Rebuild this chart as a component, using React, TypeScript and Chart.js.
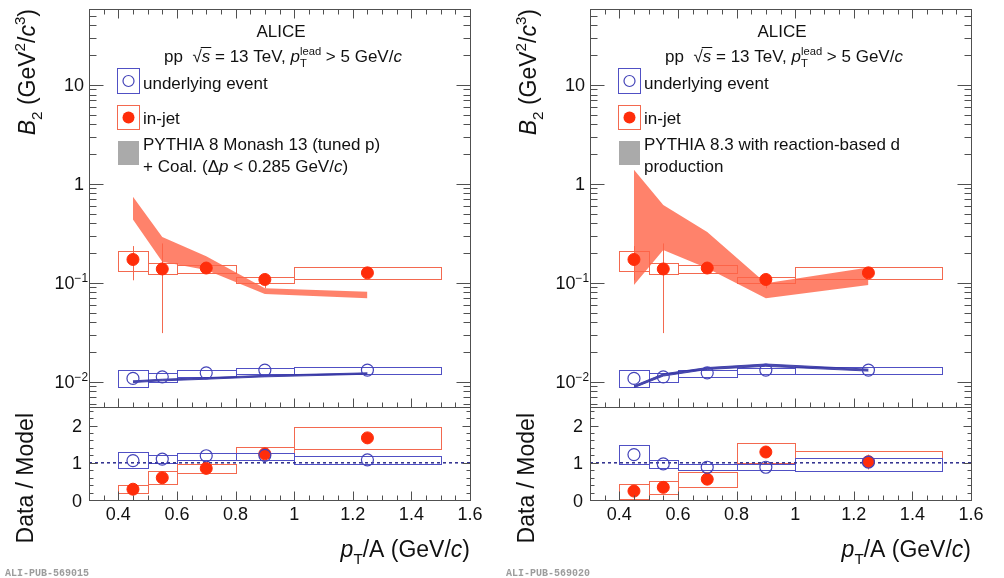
import React, { useEffect, useRef } from 'react';
import { Chart, registerables } from 'chart.js';

Chart.register(...registerables);

// ---------------- data ----------------
const binCenters = [0.45, 0.55, 0.7, 0.9, 1.25];
const binLow = [0.4, 0.5, 0.6, 0.8, 1.0];
const binHigh = [0.5, 0.6, 0.8, 1.0, 1.5];

// in-jet B2
const inJetB2 = [0.172, 0.138, 0.141, 0.108, 0.126];
const inJetStatLow = [0.106, 0.031, 0.136, 0.088, 0.12];
const inJetStatHigh = [0.235, 0.25, 0.146, 0.124, 0.132];
const inJetSystLow = [0.132, 0.122, 0.126, 0.1, 0.108];
const inJetSystHigh = [0.21, 0.157, 0.152, 0.115, 0.143];

// underlying-event B2
const ueB2 = [0.0108, 0.0112, 0.0123, 0.0131, 0.0131];
const ueSystLow = [0.0088, 0.0099, 0.0112, 0.012, 0.0119];
const ueSystHigh = [0.013, 0.0122, 0.013, 0.0139, 0.0142];

// model x positions
const modelX = [0.45, 0.55, 0.7, 0.9, 1.25];

// PYTHIA 8 Monash 13 + coalescence (left)
const monashInJetLow = [0.437, 0.163, 0.135, 0.077, 0.0696];
const monashInJetHigh = [0.74, 0.29, 0.185, 0.088, 0.081];
const monashUELow = [0.0098, 0.0102, 0.0106, 0.0112, 0.0119];
const monashUEHigh = [0.0102, 0.0106, 0.011, 0.0116, 0.0123];

// PYTHIA 8.3 reaction-based (right)
const reactionInJetLow = [0.095, 0.214, 0.14, 0.0696, 0.095];
const reactionInJetHigh = [1.39, 0.61, 0.327, 0.099, 0.143];
const reactionUELow = [0.0087, 0.0114, 0.0133, 0.0143, 0.0128];
const reactionUEHigh = [0.0091, 0.012, 0.0139, 0.0151, 0.0134];

// Data / Model, left
const ratioMonashInJet = [0.29, 0.6, 0.85, 1.24, 1.67];
const ratioMonashInJetStatLow = [0.22, 0.5, 0.8, 1.14, 1.58];
const ratioMonashInJetStatHigh = [0.36, 0.7, 0.9, 1.34, 1.76];
const ratioMonashInJetSystLow = [0.18, 0.42, 0.72, 1.08, 1.38];
const ratioMonashInJetSystHigh = [0.39, 0.79, 0.97, 1.42, 1.95];
const ratioMonashUE = [1.06, 1.1, 1.19, 1.2, 1.08];
const ratioMonashUESystLow = [0.85, 0.99, 1.08, 1.08, 0.97];
const ratioMonashUESystHigh = [1.3, 1.2, 1.26, 1.26, 1.18];

// Data / Model, right
const ratioReactionInJet = [0.24, 0.34, 0.56, 1.29, 1.03];
const ratioReactionInJetStatLow = [0.08, 0.24, 0.48, 1.13, 0.82];
const ratioReactionInJetStatHigh = [0.38, 0.44, 0.64, 1.45, 1.22];
const ratioReactionInJetSystLow = [0.02, 0.16, 0.36, 1.0, 0.77];
const ratioReactionInJetSystHigh = [0.43, 0.51, 0.75, 1.53, 1.32];
const ratioReactionUE = [1.22, 0.97, 0.88, 0.88, 1.02];
const ratioReactionUESystLow = [0.96, 0.87, 0.81, 0.81, 0.78];
const ratioReactionUESystHigh = [1.48, 1.08, 0.97, 0.97, 1.13];

// unity reference line
const unityX = [0.3, 1.6];
const unityY = [1, 1];

// axes / ticks
const xMin = 0.3;
const xMax = 1.6;
const xMajorTicks = [0.4, 0.6, 0.8, 1.0, 1.2, 1.4, 1.6];
const xTickLabels = ['0.4', '0.6', '0.8', '1', '1.2', '1.4', '1.6'];
const xMinorStep = 0.05;
const logMin = 0.00555;
const logMax = 58.6;
const logMajorTicks = [0.01, 0.1, 1, 10];
const logTickBase = ['10', '10', '1', '10'];
const logTickExp = ['−2', '−1', '', ''];
const ratioMin = 0;
const ratioMax = 2.5;
const ratioMajorTicks = [0, 1, 2];
const ratioTickLabels = ['0', '1', '2'];
const ratioMinorStep = 0.2;

// ---------------- styling ----------------
const W = 502;
const H = 578;
const FRAME = { left: 89, right: 470, top: 9, mid: 407, bottom: 500 };
const FONT = '"Liberation Sans", Arial, Helvetica, sans-serif';
const RED = '#ff2d0a';
const RED_BOX = '#f3694f';
const BAND_RED = 'rgba(255, 99, 70, 0.8)';
const BLUE = '#4343b8';
const BLUE_BOX = '#5050c4';
const BAND_BLUE = 'rgba(55, 55, 165, 0.9)';
const DOTTED = '#2c2c8c';
const AXIS = '#505050';
const TEXT = '#111';

type Seg = { t: string; it?: boolean; sub?: boolean; sup?: boolean; hold?: boolean; over?: boolean };

function segFont(s: Seg, size: number) {
  const sz = s.sub || s.sup ? size * 0.66 : size;
  return `${s.it ? 'italic ' : ''}${sz}px ${FONT}`;
}

function rich(
  ctx: CanvasRenderingContext2D,
  segs: Seg[],
  x0: number,
  y: number,
  size: number,
  align: 'left' | 'right' | 'center',
  draw = true
): number {
  let total = 0;
  if (draw) total = rich(ctx, segs, 0, 0, size, 'left', false);
  const start = align === 'left' ? x0 : align === 'right' ? x0 - total : x0 - total / 2;
  let x = start;
  let hold: { x: number; w: number } | null = null;
  ctx.textAlign = 'left';
  ctx.textBaseline = 'alphabetic';
  for (const s of segs) {
    ctx.font = segFont(s, size);
    const w = ctx.measureText(s.t).width;
    const dy = s.sub ? size * 0.3 : s.sup ? -size * 0.42 : 0;
    const dx = hold ? hold.x : x;
    if (draw) {
      ctx.fillText(s.t, dx, y + dy);
      if (s.over) {
        ctx.save();
        ctx.strokeStyle = ctx.fillStyle as string;
        ctx.lineWidth = 1;
        ctx.beginPath();
        const oy = Math.round(y - size * 0.86) + 0.5;
        ctx.moveTo(dx - 1, oy);
        ctx.lineTo(dx + w + 1, oy);
        ctx.stroke();
        ctx.restore();
      }
    }
    if (s.hold) {
      hold = { x, w };
      continue;
    }
    if (hold) {
      x = hold.x + Math.max(hold.w, w);
      hold = null;
    } else x += w;
  }
  return x - start;
}

function pts(xs: number[], ys: number[]) {
  return xs.map((x, i) => ({ x, y: ys[i] }));
}

type BoxSet = { lo: number[]; hi: number[]; color: string };
type ErrSet = { x: number[]; lo: number[]; hi: number[]; color: string };

function drawBoxesAndErrors(chart: any, boxes: BoxSet[], errs: ErrSet[]) {
  const { ctx, chartArea } = chart;
  const xs = chart.scales.x;
  const ys = chart.scales.y;
  ctx.save();
  ctx.beginPath();
  ctx.rect(chartArea.left, chartArea.top, chartArea.right - chartArea.left, chartArea.bottom - chartArea.top);
  ctx.clip();
  ctx.lineWidth = 1;
  for (const b of boxes) {
    ctx.strokeStyle = b.color;
    for (let i = 0; i < binLow.length; i++) {
      const x1 = Math.round(xs.getPixelForValue(binLow[i])) + 0.5;
      const x2 = Math.round(xs.getPixelForValue(binHigh[i])) + 0.5;
      const y1 = Math.round(ys.getPixelForValue(b.hi[i])) + 0.5;
      const y2 = Math.round(ys.getPixelForValue(b.lo[i])) + 0.5;
      ctx.strokeRect(x1, y1, x2 - x1, y2 - y1);
    }
  }
  for (const e of errs) {
    ctx.strokeStyle = e.color;
    ctx.beginPath();
    for (let i = 0; i < e.x.length; i++) {
      const px = Math.round(xs.getPixelForValue(e.x[i])) + 0.5;
      ctx.moveTo(px, ys.getPixelForValue(e.hi[i]));
      ctx.lineTo(px, ys.getPixelForValue(e.lo[i]));
    }
    ctx.stroke();
  }
  ctx.restore();
}

function drawFrame(chart: any, opts: {
  yMajor: number[];
  yMinor: number[];
  xTop: boolean;
  xMajLen: number;
  xMinLen: number;
  yMajLen: number;
  yMinLen: number;
}) {
  const { ctx, chartArea } = chart;
  const { left, right, top, bottom } = chartArea;
  const xs = chart.scales.x;
  const ys = chart.scales.y;
  ctx.save();
  ctx.strokeStyle = AXIS;
  ctx.lineWidth = 1;
  ctx.beginPath();
  const seg = (x1: number, y1: number, x2: number, y2: number) => {
    ctx.moveTo(x1, y1);
    ctx.lineTo(x2, y2);
  };
  const nMinor = Math.round((xMax - xMin) / xMinorStep);
  for (let k = 1; k < nMinor; k++) {
    const v = xMin + k * xMinorStep;
    const major = xMajorTicks.some((m) => Math.abs(m - v) < 1e-6);
    const len = major ? opts.xMajLen : opts.xMinLen;
    const px = Math.round(xs.getPixelForValue(v)) + 0.5;
    seg(px, bottom + 0.5, px, bottom + 0.5 - len);
    if (opts.xTop) seg(px, top + 0.5, px, top + 0.5 + len);
  }
  const yTick = (v: number, len: number) => {
    const py = Math.round(ys.getPixelForValue(v)) + 0.5;
    if (py < top || py > bottom + 1) return;
    seg(left + 0.5, py, left + 0.5 + len, py);
    seg(right + 0.5, py, right + 0.5 - len, py);
  };
  opts.yMinor.forEach((v) => yTick(v, opts.yMinLen));
  opts.yMajor.forEach((v) => yTick(v, opts.yMajLen));
  ctx.stroke();
  ctx.strokeRect(left + 0.5, top + 0.5, right - left, bottom - top);
  ctx.restore();
}

type PanelCfg = {
  modelInJetLow: number[];
  modelInJetHigh: number[];
  modelUELow: number[];
  modelUEHigh: number[];
  modelLines: Seg[][];
  ratioInJet: number[];
  ratioInJetStatLow: number[];
  ratioInJetStatHigh: number[];
  ratioInJetSystLow: number[];
  ratioInJetSystHigh: number[];
  ratioUE: number[];
  ratioUESystLow: number[];
  ratioUESystHigh: number[];
  pubLabel: string;
};

const leftPanel: PanelCfg = {
  modelInJetLow: monashInJetLow,
  modelInJetHigh: monashInJetHigh,
  modelUELow: monashUELow,
  modelUEHigh: monashUEHigh,
  modelLines: [
    [{ t: 'PYTHIA 8 Monash 13 (tuned p)' }],
    [{ t: '+ Coal. (Δ' }, { t: 'p', it: true }, { t: ' < 0.285 GeV/' }, { t: 'c', it: true }, { t: ')' }],
  ],
  ratioInJet: ratioMonashInJet,
  ratioInJetStatLow: ratioMonashInJetStatLow,
  ratioInJetStatHigh: ratioMonashInJetStatHigh,
  ratioInJetSystLow: ratioMonashInJetSystLow,
  ratioInJetSystHigh: ratioMonashInJetSystHigh,
  ratioUE: ratioMonashUE,
  ratioUESystLow: ratioMonashUESystLow,
  ratioUESystHigh: ratioMonashUESystHigh,
  pubLabel: 'ALI-PUB-569015',
};

const rightPanel: PanelCfg = {
  modelInJetLow: reactionInJetLow,
  modelInJetHigh: reactionInJetHigh,
  modelUELow: reactionUELow,
  modelUEHigh: reactionUEHigh,
  modelLines: [[{ t: 'PYTHIA 8.3 with reaction-based d' }], [{ t: 'production' }]],
  ratioInJet: ratioReactionInJet,
  ratioInJetStatLow: ratioReactionInJetStatLow,
  ratioInJetStatHigh: ratioReactionInJetStatHigh,
  ratioInJetSystLow: ratioReactionInJetSystLow,
  ratioInJetSystHigh: ratioReactionInJetSystHigh,
  ratioUE: ratioReactionUE,
  ratioUESystLow: ratioReactionUESystLow,
  ratioUESystHigh: ratioReactionUESystHigh,
  pubLabel: 'ALI-PUB-569020',
};

function markerSets(ueY: number[], jetY: number[]) {
  return [
    {
      label: 'underlying event',
      data: pts(binCenters, ueY),
      showLine: false,
      pointRadius: 6,
      pointHoverRadius: 6,
      pointStyle: 'circle',
      pointBorderColor: BLUE,
      pointBackgroundColor: 'rgba(0,0,0,0)',
      pointBorderWidth: 1.2,
      order: 0,
    },
    {
      label: 'in-jet',
      data: pts(binCenters, jetY),
      showLine: false,
      pointRadius: 6,
      pointHoverRadius: 6,
      pointStyle: 'circle',
      pointBorderColor: RED,
      pointBackgroundColor: RED,
      pointBorderWidth: 1,
      order: 1,
    },
  ];
}

function buildUpper(canvas: HTMLCanvasElement, cfg: PanelCfg) {
  const logMinor: number[] = [];
  for (let d = -3; d <= 1; d++) for (let m = 2; m <= 9; m++) logMinor.push(m * Math.pow(10, d));

  const plugin = {
    id: 'upperDecor',
    beforeDatasetsDraw(chart: any) {
      drawBoxesAndErrors(
        chart,
        [
          { lo: inJetSystLow, hi: inJetSystHigh, color: RED_BOX },
          { lo: ueSystLow, hi: ueSystHigh, color: BLUE_BOX },
        ],
        [{ x: binCenters, lo: inJetStatLow, hi: inJetStatHigh, color: RED_BOX }]
      );
    },
    afterDraw(chart: any) {
      const ctx: CanvasRenderingContext2D = chart.ctx;
      drawFrame(chart, {
        yMajor: logMajorTicks,
        yMinor: logMinor,
        xTop: true,
        xMajLen: 9,
        xMinLen: 5,
        yMajLen: 14,
        yMinLen: 7,
      });
      const ys = chart.scales.y;
      ctx.save();
      ctx.fillStyle = TEXT;
      // y tick labels
      logMajorTicks.forEach((v, i) => {
        const py = ys.getPixelForValue(v);
        const segs: Seg[] = [{ t: logTickBase[i] }];
        if (logTickExp[i]) segs.push({ t: logTickExp[i], sup: true });
        rich(ctx, segs, logTickExp[i] ? 88 : 84, py + 6.5, 18, 'right');
      });
      // y title (rotated)
      ctx.save();
      ctx.translate(35, 9);
      ctx.rotate(-Math.PI / 2);
      rich(
        ctx,
        [
          { t: 'B', it: true },
          { t: '2', sub: true },
          { t: ' (GeV' },
          { t: '2', sup: true },
          { t: '/' },
          { t: 'c', it: true },
          { t: '3', sup: true },
          { t: ')' },
        ],
        0,
        0,
        23,
        'right'
      );
      ctx.restore();
      // header
      rich(ctx, [{ t: 'ALICE' }], 281, 37, 17, 'center');
      rich(
        ctx,
        [
          { t: 'pp  ' },
          { t: '√' },
          { t: 's', it: true, over: true },
          { t: ' = 13 TeV, ' },
          { t: 'p', it: true },
          { t: 'T', sub: true, hold: true },
          { t: 'lead', sup: true },
          { t: ' > 5 GeV/' },
          { t: 'c', it: true },
        ],
        283,
        62,
        17,
        'center'
      );
      // legend
      ctx.lineWidth = 1;
      ctx.strokeStyle = BLUE_BOX;
      ctx.strokeRect(117.5, 68.5, 22, 25);
      ctx.beginPath();
      ctx.arc(128.5, 81, 5.5, 0, Math.PI * 2);
      ctx.strokeStyle = BLUE;
      ctx.lineWidth = 1.2;
      ctx.stroke();
      ctx.lineWidth = 1;
      ctx.strokeStyle = RED_BOX;
      ctx.strokeRect(117.5, 105.5, 22, 24);
      ctx.beginPath();
      ctx.arc(128.5, 117.5, 6, 0, Math.PI * 2);
      ctx.fillStyle = RED;
      ctx.fill();
      ctx.fillStyle = '#aaaaaa';
      ctx.fillRect(118, 141, 21, 24);
      ctx.fillStyle = TEXT;
      rich(ctx, [{ t: 'underlying event' }], 143, 88.5, 17, 'left');
      rich(ctx, [{ t: 'in-jet' }], 143, 123.5, 17, 'left');
      rich(ctx, cfg.modelLines[0], 143, 149.5, 17, 'left');
      rich(ctx, cfg.modelLines[1], 143, 172, 17, 'left');
      ctx.restore();
    },
  };

  return new Chart(canvas, {
    type: 'line',
    data: {
      datasets: [
        ...markerSets(ueB2, inJetB2),
        {
          label: 'model in-jet low',
          data: pts(modelX, cfg.modelInJetLow),
          borderColor: 'rgba(0,0,0,0)',
          borderWidth: 0,
          pointRadius: 0,
          fill: false,
          tension: 0,
          order: 5,
        },
        {
          label: 'model in-jet high',
          data: pts(modelX, cfg.modelInJetHigh),
          borderColor: 'rgba(0,0,0,0)',
          borderWidth: 0,
          pointRadius: 0,
          fill: 2,
          backgroundColor: BAND_RED,
          tension: 0,
          order: 5,
        },
        {
          label: 'model UE low',
          data: pts(modelX, cfg.modelUELow),
          borderColor: BAND_BLUE,
          borderWidth: 1,
          pointRadius: 0,
          fill: false,
          tension: 0,
          order: 4,
        },
        {
          label: 'model UE high',
          data: pts(modelX, cfg.modelUEHigh),
          borderColor: BAND_BLUE,
          borderWidth: 1,
          pointRadius: 0,
          fill: 4,
          backgroundColor: BAND_BLUE,
          tension: 0,
          order: 4,
        },
      ] as any,
    },
    options: {
      responsive: false,
      animation: false,
      devicePixelRatio: 1,
      layout: {
        padding: { left: FRAME.left, right: W - FRAME.right, top: FRAME.top, bottom: H - FRAME.mid },
      },
      plugins: { legend: { display: false }, tooltip: { enabled: false }, title: { display: false } },
      events: [],
      scales: {
        x: { type: 'linear', min: xMin, max: xMax, display: false },
        y: { type: 'logarithmic', min: logMin, max: logMax, display: false },
      },
    } as any,
    plugins: [plugin],
  });
}

function buildLower(canvas: HTMLCanvasElement, cfg: PanelCfg) {
  const ratioMinor: number[] = [];
  for (let k = 1; k * ratioMinorStep < ratioMax; k++) ratioMinor.push(k * ratioMinorStep);

  const plugin = {
    id: 'lowerDecor',
    beforeDatasetsDraw(chart: any) {
      drawBoxesAndErrors(
        chart,
        [
          { lo: cfg.ratioInJetSystLow, hi: cfg.ratioInJetSystHigh, color: RED_BOX },
          { lo: cfg.ratioUESystLow, hi: cfg.ratioUESystHigh, color: BLUE_BOX },
        ],
        [{ x: binCenters, lo: cfg.ratioInJetStatLow, hi: cfg.ratioInJetStatHigh, color: RED_BOX }]
      );
    },
    afterDraw(chart: any) {
      const ctx: CanvasRenderingContext2D = chart.ctx;
      drawFrame(chart, {
        yMajor: ratioMajorTicks,
        yMinor: ratioMinor,
        xTop: false,
        xMajLen: 9,
        xMinLen: 5,
        yMajLen: 8,
        yMinLen: 4,
      });
      const xs = chart.scales.x;
      const ys = chart.scales.y;
      ctx.save();
      ctx.fillStyle = TEXT;
      ratioMajorTicks.forEach((v, i) => {
        rich(ctx, [{ t: ratioTickLabels[i] }], 82, ys.getPixelForValue(v) + 6.5, 18, 'right');
      });
      xMajorTicks.forEach((v, i) => {
        rich(ctx, [{ t: xTickLabels[i] }], xs.getPixelForValue(v), 520, 18, 'center');
      });
      ctx.save();
      ctx.translate(33, 413);
      ctx.rotate(-Math.PI / 2);
      rich(ctx, [{ t: 'Data / Model' }], 0, 0, 23, 'right');
      ctx.restore();
      rich(
        ctx,
        [{ t: 'p', it: true }, { t: 'T', sub: true }, { t: '/A (GeV/' }, { t: 'c', it: true }, { t: ')' }],
        470,
        557,
        23,
        'right'
      );
      ctx.font = `bold 10px "Liberation Mono", "DejaVu Sans Mono", monospace`;
      ctx.fillStyle = '#9c9c9c';
      ctx.textAlign = 'left';
      ctx.fillText(cfg.pubLabel, 5, 576);
      ctx.restore();
    },
  };

  return new Chart(canvas, {
    type: 'line',
    data: {
      datasets: [
        ...markerSets(cfg.ratioUE, cfg.ratioInJet),
        {
          label: 'unity',
          data: pts(unityX, unityY),
          borderColor: DOTTED,
          borderWidth: 1.5,
          borderDash: [3, 3],
          pointRadius: 0,
          fill: false,
          order: 3,
        },
      ] as any,
    },
    options: {
      responsive: false,
      animation: false,
      devicePixelRatio: 1,
      layout: {
        padding: { left: FRAME.left, right: W - FRAME.right, top: FRAME.mid, bottom: H - FRAME.bottom },
      },
      plugins: { legend: { display: false }, tooltip: { enabled: false }, title: { display: false } },
      events: [],
      scales: {
        x: { type: 'linear', min: xMin, max: xMax, display: false },
        y: { type: 'linear', min: ratioMin, max: ratioMax, display: false },
      },
    } as any,
    plugins: [plugin],
  });
}

const canvasStyle = (left: number): React.CSSProperties => ({
  position: 'absolute',
  left,
  top: 0,
  width: W,
  height: H,
});

export default function App() {
  const ul = useRef<HTMLCanvasElement>(null);
  const ll = useRef<HTMLCanvasElement>(null);
  const ur = useRef<HTMLCanvasElement>(null);
  const lr = useRef<HTMLCanvasElement>(null);

  useEffect(() => {
    const charts = [
      buildUpper(ul.current!, leftPanel),
      buildLower(ll.current!, leftPanel),
      buildUpper(ur.current!, rightPanel),
      buildLower(lr.current!, rightPanel),
    ];
    return () => charts.forEach((c) => c.destroy());
  }, []);

  return (
    <div style={{ position: 'fixed', left: 0, top: 0, width: 1004, height: 578, background: '#fff' }}>
      <canvas ref={ul} width={W} height={H} style={canvasStyle(0)} />
      <canvas ref={ll} width={W} height={H} style={canvasStyle(0)} />
      <canvas ref={ur} width={W} height={H} style={canvasStyle(501)} />
      <canvas ref={lr} width={W} height={H} style={canvasStyle(501)} />
    </div>
  );
}
